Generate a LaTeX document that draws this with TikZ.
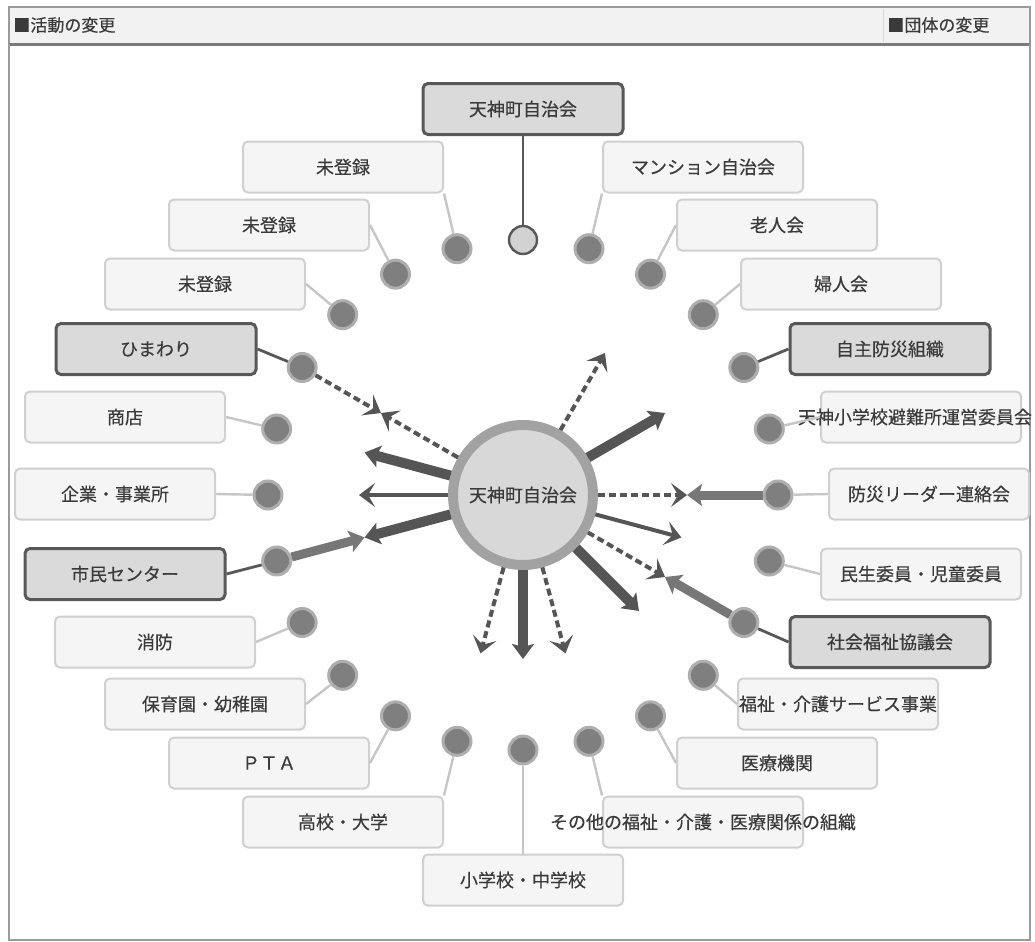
\documentclass[tikz,border=0pt]{standalone}
\usepackage{fontspec}
\setmainfont{Noto Sans CJK JP}[FakeBold=0.35]
\usetikzlibrary{arrows.meta}

\definecolor{txtgray}{HTML}{3A3A3A}
\definecolor{boxfill}{HTML}{F5F5F5}
\definecolor{boxline}{HTML}{D0D0D0}
\definecolor{dboxfill}{HTML}{DADADA}
\definecolor{darkline}{HTML}{585858}
\definecolor{dotfill}{HTML}{7F7F7F}
\definecolor{dothalo}{HTML}{AEAEAE}
\definecolor{topfill}{HTML}{D2D2D2}
\definecolor{hubfill}{HTML}{D8D8D8}
\definecolor{hubring}{HTML}{A2A2A2}
\definecolor{arrdark}{HTML}{555555}
\definecolor{arrmid}{HTML}{777777}
\definecolor{linkgray}{HTML}{C6C6C6}
\definecolor{framegray}{HTML}{9A9A9A}
\definecolor{headfill}{HTML}{F2F2F2}

\tikzset{
    lbox/.style={draw=boxline, line width=1pt, fill=boxfill, rounded corners=2.5pt,
        minimum width=100pt, minimum height=25.5pt, inner sep=0pt, text=txtgray},
    dbox/.style={lbox, draw=darkline, line width=1.5pt, fill=dboxfill},
    orgdot/.style={circle, fill=dotfill, draw=dothalo, line width=1.5pt,
        minimum size=14pt, inner sep=0pt},
    topdot/.style={orgdot, fill=topfill, draw=darkline, line width=1.2pt},
    hub/.style={circle, fill=hubfill, draw=hubring, line width=5pt,
        minimum size=70pt, inner sep=0pt, text=txtgray},
    headtxt/.style={anchor=west, inner sep=0pt, text=txtgray,
        font=\fontsize{8.5pt}{10pt}\selectfont},
    link/.style={draw=linkgray, line width=1.2pt},
    dlink/.style={draw=darkline, line width=1.4pt},
    thickarr/.style={draw=arrdark, line width=5pt,
        -{Stealth[length=7.5pt,width=11pt,inset=1.5pt]}},
    midarr/.style={draw=arrdark, line width=2pt,
        -{Stealth[length=8pt,width=12pt,inset=3.5pt]}},
    dasharr/.style={midarr, dash pattern=on 3.5pt off 2pt},
    inarr/.style={thickarr, draw=arrmid, line width=4.5pt}
}

\begin{document}
\begin{tikzpicture}[x=0.5pt, y=0.5pt, font=\fontsize{9pt}{10pt}\selectfont]
    \useasboundingbox (0,0) rectangle (1035,-942);

    % frame and header
    \draw[framegray, line width=0.8pt, fill=headfill] (9,-7) rectangle (1030,-44);
    \draw[framegray!80!black, line width=1.5pt] (9,-44) -- (1030,-44);
    \draw[framegray, line width=1pt] (9,-44) -- (9,-940) -- (1030,-940) -- (1030,-44);
    \draw[framegray!40] (883,-9) -- (883,-42);
    \node[headtxt] (hleft) at (13,-25) {■活動の変更};
    \node[headtxt] (hright) at (887,-25) {■団体の変更};

    % hub
    \node[hub] (hub) at (523,-495) {天神町自治会};

    % dots on the ring, arrow ends
    \begin{scope}[shift={(523,-495)}]
        \foreach \a in {0,15,...,75}
            \node[orgdot] (d\a) at (\a:255) {};
        \foreach \a in {105,120,...,345}
            \node[orgdot] (d\a) at (\a:255) {};
        \node[topdot] (d90) at (90:255) {};
        \foreach \a in {0,30,60,150,165,180,195,255,270,285,315,330,345}
            \coordinate (t\a) at (\a:164);
    \end{scope}

    % boxes, left
    \node[lbox] (b105) at (343,-167) {未登録};
    \node[lbox] (b120) at (269,-225) {未登録};
    \node[lbox] (b135) at (205,-284) {未登録};
    \node[dbox] (b150) at (156,-349) {ひまわり};
    \node[lbox] (b165) at (125,-417) {商店};
    \node[lbox] (b180) at (115,-494) {企業・事業所};
    \node[dbox] (b195) at (125,-574) {市民センター};
    \node[lbox] (b210) at (155,-642) {消防};
    \node[lbox] (b225) at (205,-704) {保育園・幼稚園};
    \node[lbox] (b240) at (269,-763) {ＰＴＡ};
    \node[lbox] (b255) at (343,-822) {高校・大学};
    \node[lbox] (b270) at (523,-880) {小学校・中学校};
    % boxes, right
    \node[dbox] (b90) at (523,-109) {天神町自治会};
    \node[lbox] (b75) at (703,-167) {マンション自治会};
    \node[lbox] (b60) at (777,-225) {老人会};
    \node[lbox] (b45) at (841,-284) {婦人会};
    \node[dbox] (b30) at (890,-349) {自主防災組織};
    \node[lbox] (b15) at (921,-417) {\makebox[0pt]{天神小学校避難所運営委員会\hspace{6pt}}};
    \node[lbox] (b0) at (929,-494) {防災リーダー連絡会};
    \node[lbox] (b345) at (921,-574) {民生委員・児童委員};
    \node[dbox] (b330) at (890,-642) {社会福祉協議会};
    \node[lbox] (b315) at (838,-704) {\makebox[0pt]{福祉・介護サービス事業}};
    \node[lbox] (b300) at (777,-763) {医療機関};
    \node[lbox] (b285) at (703,-822) {\makebox[0pt]{その他の福祉・介護・医療関係の組織}};

    % links dot - box
    \draw[link] (d105) -- (b105.south east);
    \foreach \a in {120,135,165,180,210,225,240}
        \draw[link] (d\a) -- (b\a.east);
    \draw[link] (d255) -- (b255.north east);
    \draw[link] (d270) -- (b270.north);
    \draw[link] (d285) -- (b285.north west);
    \foreach \a in {0,15,45,60,300,315,345}
        \draw[link] (d\a) -- (b\a.west);
    \draw[link] (d75) -- (b75.south west);
    \foreach \a in {150,195}
        \draw[dlink] (d\a) -- (b\a.east);
    \foreach \a in {30,330}
        \draw[dlink] (d\a) -- (b\a.west);
    \draw[dlink] (b90) -- (d90);

    % arrows
    \foreach \a in {30,165,195,270,315}
        \draw[thickarr] (hub.\a) -- (t\a);
    \foreach \a in {180,345}
        \draw[midarr] (hub.\a) -- (t\a);
    \foreach \a in {0,60,150,255,285,330}
        \draw[dasharr] (hub.\a) -- (t\a);
    \draw[dasharr] (d150) -- (t150);
    \foreach \a in {0,195,330}
        \draw[inarr] (d\a) -- (t\a);

\end{tikzpicture}
\end{document}
